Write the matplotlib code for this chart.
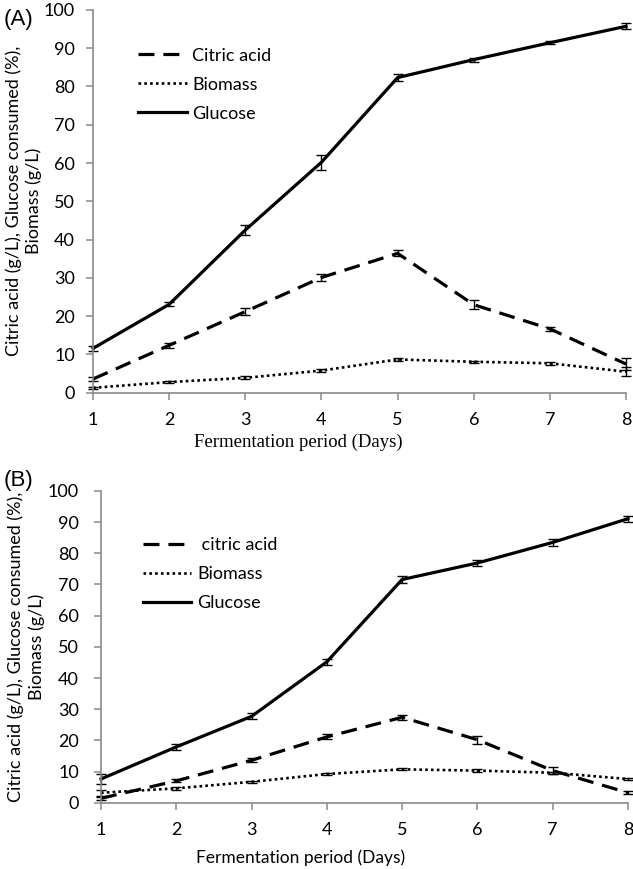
import numpy as np
import matplotlib
matplotlib.use("Agg")
import matplotlib.pyplot as plt
from matplotlib.lines import Line2D

# days
days = [1, 2, 3, 4, 5, 6, 7, 8]

# panel A values
a_citric = [3.6, 12.4, 21.2, 30.1, 36.4, 23.0, 16.7, 7.5]
a_citric_err = [0.5, 0.6, 1.0, 1.0, 0.8, 1.2, 0.5, 1.5]
a_biomass = [1.3, 2.8, 3.9, 5.8, 8.7, 8.1, 7.7, 5.5]
a_biomass_err = [0.3, 0.3, 0.4, 0.3, 0.4, 0.3, 0.4, 1.2]
a_glucose = [11.6, 23.1, 42.5, 60.2, 82.3, 87.0, 91.4, 95.7]
a_glucose_err = [0.6, 0.5, 1.2, 2.0, 1.0, 0.5, 0.4, 0.8]

# panel B values
b_citric = [1.4, 7.0, 13.6, 21.1, 27.4, 20.2, 10.3, 3.2]
b_citric_err = [0.5, 0.5, 0.6, 0.8, 0.8, 1.3, 1.0, 0.4]
b_biomass = [3.2, 4.6, 6.7, 9.2, 10.7, 10.3, 9.6, 7.6]
b_biomass_err = [1.0, 0.4, 0.3, 0.3, 0.3, 0.4, 0.4, 0.4]
b_glucose = [7.6, 17.9, 27.7, 45.2, 71.6, 76.9, 83.5, 91.1]
b_glucose_err = [1.5, 1.0, 1.0, 1.0, 1.0, 1.0, 1.0, 1.0]

ylabel = "Citric acid (g/L), Glucose consumed (%),\nBiomass (g/L)"
xlabel = "Fermentation period (Days)"

SANS = "Lato"
DASH = (0, (5, 2.8))
DOT = (0, (1, 1.2))
FS = 13

fig = plt.figure(figsize=(6.33, 8.69), dpi=100)


def draw_panel(ax, citric, citric_err, biomass, biomass_err, glucose, glucose_err,
               names, ypad, ylab_x, leg_xy):
    styles = [(DASH, 2.3), (DOT, 1.9), ("-", 2.3)]
    series = [(citric, citric_err), (biomass, biomass_err), (glucose, glucose_err)]
    handles = []
    for (vals, err), (ls, lw), name in zip(series, styles, names):
        ax.errorbar(days, vals, yerr=err, color="black", lw=lw, linestyle=ls,
                    ecolor="black", elinewidth=1, capsize=3.5, clip_on=False)
        handles.append(Line2D([], [], color="black", lw=lw, linestyle=ls, label=name))
    ax.set_xlim(1, 8)
    ax.set_ylim(0, 100)
    ax.set_xticks(days)
    ax.set_yticks(np.arange(0, 101, 10))
    for s in ["top", "right"]:
        ax.spines[s].set_visible(False)
    for s in ["left", "bottom"]:
        ax.spines[s].set_color("#8a8a8a")
        ax.spines[s].set_linewidth(1.2)
    ax.tick_params(axis="both", direction="out", length=5, width=1.1, color="#8a8a8a",
                   labelsize=FS)
    for t in ax.get_xticklabels() + ax.get_yticklabels():
        t.set_fontfamily(SANS)
    ax.tick_params(axis="x", pad=9)
    ax.tick_params(axis="y", pad=ypad)
    ax.set_ylabel(ylabel, fontsize=FS, fontfamily=SANS, linespacing=1.3)
    ax.yaxis.set_label_coords(ylab_x, 0.5)
    ax.yaxis.label.set_va("center")
    ax.legend(handles=handles, loc="upper left", bbox_to_anchor=leg_xy,
              frameon=False, handlelength=2.7, handletextpad=0.3, labelspacing=0.72,
              borderpad=0, prop={"family": SANS, "size": FS})


# panel A
axA = fig.add_axes([0.147, 0.548, 0.842, 0.4407])
draw_panel(axA, a_citric, a_citric_err, a_biomass, a_biomass_err, a_glucose, a_glucose_err,
           ["Citric acid", "Biomass", "Glucose"], 8, -0.130, (0.068, 0.925))
fig.text(0.006, 0.99, "(A)", fontsize=16, fontfamily="Liberation Sans", va="top")
# x titles sit left of the axis centre in the original
fig.text(0.471, 0.4914, xlabel, fontsize=13.5, fontfamily="Liberation Serif",
         ha="center", va="center")

# panel B
axB = fig.add_axes([0.1596, 0.0763, 0.8324, 0.3587])
draw_panel(axB, b_citric, b_citric_err, b_biomass, b_biomass_err, b_glucose, b_glucose_err,
           [" citric acid", "Biomass", "Glucose"], 11, -0.142, (0.062, 0.88))
fig.text(0.006, 0.459, "(B)", fontsize=16, fontfamily="Liberation Sans", va="top")
fig.text(0.4755, 0.0127, xlabel, fontsize=12.5, fontfamily=SANS, ha="center", va="center")

fig.savefig("out.png", dpi=100)
